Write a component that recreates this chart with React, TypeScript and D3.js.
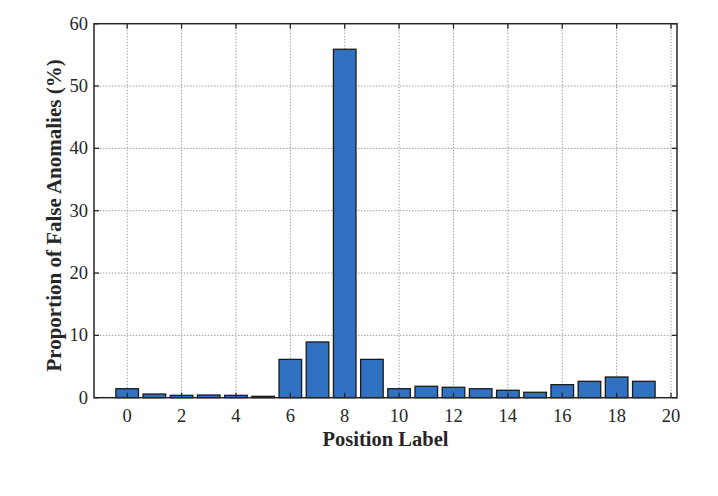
import React, { useEffect, useRef } from "react";
import * as d3 from "d3";

// data
const positions = [0, 1, 2, 3, 4, 5, 6, 7, 8, 9, 10, 11, 12, 13, 14, 15, 16, 17, 18, 19];
const proportions = [1.44, 0.59, 0.38, 0.43, 0.38, 0.22, 6.15, 8.94, 55.9, 6.15,
  1.44, 1.83, 1.67, 1.44, 1.19, 0.87, 2.09, 2.63, 3.32, 2.63];
const xTicks = [0, 2, 4, 6, 8, 10, 12, 14, 16, 18, 20];
const yTicks = [0, 10, 20, 30, 40, 50, 60];

const App = () => {
  const ref = useRef<SVGSVGElement>(null);

  useEffect(() => {
    const svg = d3.select(ref.current);
    svg.selectAll("*").remove();

    const margin = { top: 23.7, right: 41, bottom: 98.3, left: 94 };
    const width = 718 - margin.left - margin.right;
    const height = 496 - margin.top - margin.bottom;
    const font = "'Liberation Serif', 'Times New Roman', serif";

    const g = svg
      .append("g")
      .attr("transform", "translate(" + margin.left + "," + margin.top + ")");

    const x = d3.scaleLinear().domain([-1.22, 20.22]).range([0, width]);
    const y = d3.scaleLinear().domain([0, 60]).range([height, 0]);

    // grid
    const grid = g.append("g").attr("stroke", "#a0a0a0").attr("stroke-width", 1)
      .attr("stroke-dasharray", "1.5,1.5");
    grid.selectAll(".vg").data(xTicks).enter().append("line")
      .attr("x1", d => x(d)).attr("x2", d => x(d))
      .attr("y1", 0).attr("y2", height);
    grid.selectAll(".hg").data(yTicks.slice(1, -1)).enter().append("line")
      .attr("x1", 0).attr("x2", width)
      .attr("y1", d => y(d)).attr("y2", d => y(d));

    // bars
    const bw = 0.83;
    g.selectAll(".bar").data(positions).enter().append("rect")
      .attr("class", "bar")
      .attr("x", (d) => x(d - bw / 2))
      .attr("y", (d, i) => y(proportions[i]))
      .attr("width", x(bw) - x(0))
      .attr("height", (d, i) => height - y(proportions[i]))
      .attr("fill", "#3171c2")
      .attr("stroke", "#1a1a1a")
      .attr("stroke-width", 1.3);

    // inward ticks on all four sides
    const tl = 5;
    const ticks = g.append("g").attr("stroke", "#262626").attr("stroke-width", 1.3);
    xTicks.forEach(t => {
      ticks.append("line").attr("x1", x(t)).attr("x2", x(t)).attr("y1", height).attr("y2", height - tl);
      ticks.append("line").attr("x1", x(t)).attr("x2", x(t)).attr("y1", 0).attr("y2", tl);
    });
    yTicks.forEach(t => {
      ticks.append("line").attr("x1", 0).attr("x2", tl).attr("y1", y(t)).attr("y2", y(t));
      ticks.append("line").attr("x1", width).attr("x2", width - tl).attr("y1", y(t)).attr("y2", y(t));
    });

    // frame
    g.append("rect")
      .attr("x", 0).attr("y", 0).attr("width", width).attr("height", height)
      .attr("fill", "none").attr("stroke", "#262626").attr("stroke-width", 1.5);

    // tick labels
    g.selectAll(".xl").data(xTicks).enter().append("text")
      .attr("x", d => x(d)).attr("y", height + 24.5)
      .attr("text-anchor", "middle")
      .attr("font-family", font).attr("font-size", 18.5).attr("fill", "#262626")
      .text(d => d);
    g.selectAll(".yl").data(yTicks).enter().append("text")
      .attr("x", -6).attr("y", d => y(d)).attr("dy", "0.33em")
      .attr("text-anchor", "end")
      .attr("font-family", font).attr("font-size", 18.5).attr("fill", "#262626")
      .text(d => d);

    // axis titles
    g.append("text")
      .attr("x", width / 2).attr("y", height + 48)
      .attr("text-anchor", "middle")
      .attr("font-family", font).attr("font-size", 20.5).attr("font-weight", "bold")
      .attr("fill", "#262626")
      .text("Position Label");
    g.append("text")
      .attr("transform", "rotate(-90)")
      .attr("x", -191.8).attr("y", -33)
      .attr("text-anchor", "middle")
      .attr("font-family", font).attr("font-size", 21).attr("font-weight", "bold")
      .attr("fill", "#262626")
      .text("Proportion of False Anomalies (%)");
  }, []);

  return (
    <svg ref={ref} width={718} height={496}
      style={{ position: "absolute", left: 0, top: 0, background: "#fff" }} />
  );
};

export default App;
